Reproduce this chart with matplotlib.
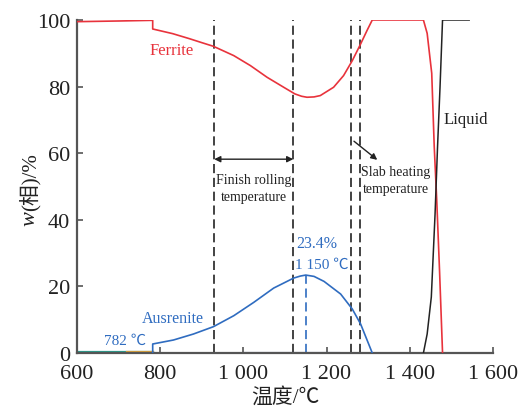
"""
Phase fraction vs temperature (ferrite / austenite / liquid), with rolling and
slab heating temperature windows marked.
"""
import matplotlib
matplotlib.use("Agg")
import matplotlib.pyplot as plt

plt.rcParams["font.family"] = ["Liberation Serif", "Noto Sans CJK SC", "DejaVu Sans"]

RED   = "#e8333c"
BLUE  = "#2f6cc0"
BLACK = "#222222"
SPINE = "#555555"

# ── data ───────────────────────────────────────────────────────────────────
ferrite_t = [600, 700, 782, 782, 830, 870, 900, 928, 977, 1017, 1057, 1097,
             1124, 1140, 1153, 1170, 1185, 1217, 1241, 1262, 1282, 1298, 1310,
             1433, 1442, 1453, 1459, 1465, 1472, 1479]
ferrite_w = [99.5, 99.7, 99.9, 97.3, 95.9, 94.4, 93.2, 92.1, 89.3, 86.3, 82.8,
             79.8, 77.8, 77.1, 76.8, 76.9, 77.3, 79.8, 83.3, 87.8, 92.8, 97.0,
             100.0, 100.0, 96.0, 84.0, 62.0, 46.0, 24.0, 0.0]

austenite_t = [782, 782, 832, 880, 928, 977, 1025, 1073, 1121, 1137, 1150,
               1170, 1194, 1234, 1262, 1282, 1310]
austenite_w = [0.0, 2.7, 3.9, 5.7, 7.9, 11.2, 15.2, 19.5, 22.5, 23.1, 23.4,
               23.0, 21.5, 17.7, 13.2, 8.7, 0.0]

liquid_t = [1433, 1442, 1452, 1461, 1467, 1473, 1479, 1543]
liquid_w = [0.0, 5.7, 16.8, 41.7, 62.0, 80.0, 100.0, 100.0]

# minor phases lying on the axis
minor_a_t = [600, 782]
minor_a_w = [0.3, 0.3]
minor_b_t = [720, 782]
minor_b_w = [0.3, 0.3]
minor_c_t = [1000, 1230]
minor_c_w = [0.2, 0.2]

finish_rolling = [930, 1120]
slab_heating = [1260, 1280]
peak_t, peak_w = 1150, 23.4

x_ticks = [600, 800, 1000, 1200, 1400, 1600]
x_tick_labels = ["600", "800", "1 000", "1 200", "1 400", "1 600"]
y_ticks = [0, 20, 40, 60, 80, 100]

# ── plot ───────────────────────────────────────────────────────────────────
fig = plt.figure(figsize=(5.26, 4.10), dpi=100)
ax = fig.add_axes([0.1464, 0.1366, 0.7906, 0.8122])

ax.plot(minor_a_t, minor_a_w, color="#2a9a8a", lw=1.6, zorder=2)
ax.plot(minor_b_t, minor_b_w, color="#d9a03a", lw=1.6, zorder=2)
ax.plot(minor_c_t, minor_c_w, color="#3a4a9a", lw=0.8, zorder=2)

ax.plot(ferrite_t, ferrite_w, color=RED, lw=1.2, zorder=3)
ax.plot(austenite_t, austenite_w, color=BLUE, lw=1.2, zorder=3)
ax.plot(liquid_t, liquid_w, color=BLACK, lw=1.1, zorder=3)

dash = (0, (5.5, 2.8))
for t in finish_rolling + slab_heating:
    ax.plot([t, t], [0, 100], color=BLACK, lw=1.2, ls=dash, zorder=1)
ax.plot([peak_t, peak_t], [0, peak_w], color=BLUE, lw=1.2, ls=dash, zorder=1)

# finish rolling window arrow
ax.annotate("", xy=(finish_rolling[0], 58.2), xytext=(finish_rolling[1], 58.2),
            arrowprops=dict(arrowstyle="<|-|>", color=BLACK, lw=1.0,
                            mutation_scale=9, shrinkA=0, shrinkB=0))
ax.text(1025, 49.6, "Finish rolling\ntemperature", ha="center", va="center",
        fontsize=10, color=BLACK, linespacing=1.35)

# slab heating arrow
ax.annotate("", xy=(1322, 58.0), xytext=(1266, 63.6),
            arrowprops=dict(arrowstyle="-|>", color=BLACK, lw=1.0,
                            mutation_scale=9, shrinkA=0, shrinkB=0))
ax.text(1366, 52.0, "Slab heating\ntemperature", ha="center", va="center",
        fontsize=10, color=BLACK, linespacing=1.35)

ax.text(828, 91, "Ferrite", ha="center", va="center", fontsize=12, color=RED)
ax.text(831, 10.5, "Ausrenite", ha="center", va="center", fontsize=11.5, color=BLUE)
ax.text(716, 3.8, "782 ℃", ha="center", va="center", fontsize=11, color=BLUE)
ax.text(1127, 33, "23.4%", ha="left", va="center", fontsize=11.5, color=BLUE)
ax.text(1124, 26.7, "1 150 ℃", ha="left", va="center", fontsize=11, color=BLUE)
ax.text(1481, 70.3, "Liquid", ha="left", va="center", fontsize=12, color=BLACK)

ax.set_xlim(600, 1600)
ax.set_ylim(0, 100)
ax.set_xticks(x_ticks)
ax.set_xticklabels(x_tick_labels)
ax.set_yticks(y_ticks)
ax.tick_params(direction="in", length=4, width=1.2, colors=SPINE,
               labelcolor=BLACK, labelsize=16)
ax.tick_params(axis="x", pad=8)
ax.tick_params(axis="y", pad=5)
ax.spines[["top", "right"]].set_visible(False)
for side in ["left", "bottom"]:
    ax.spines[side].set_color(SPINE)
    ax.spines[side].set_linewidth(1.6)

ax.set_xlabel("温度/℃", fontsize=15, color=BLACK, labelpad=3)

# y label: italic w + (相)/%
fig.text(0.057, 0.486, "w", rotation=90, ha="center", va="top",
         fontsize=16, style="italic", color=BLACK)
fig.text(0.057, 0.486, "(相)/%", rotation=90, ha="center", va="bottom",
         fontsize=15, color=BLACK)

fig.savefig("out.png", dpi=100, facecolor="white")
